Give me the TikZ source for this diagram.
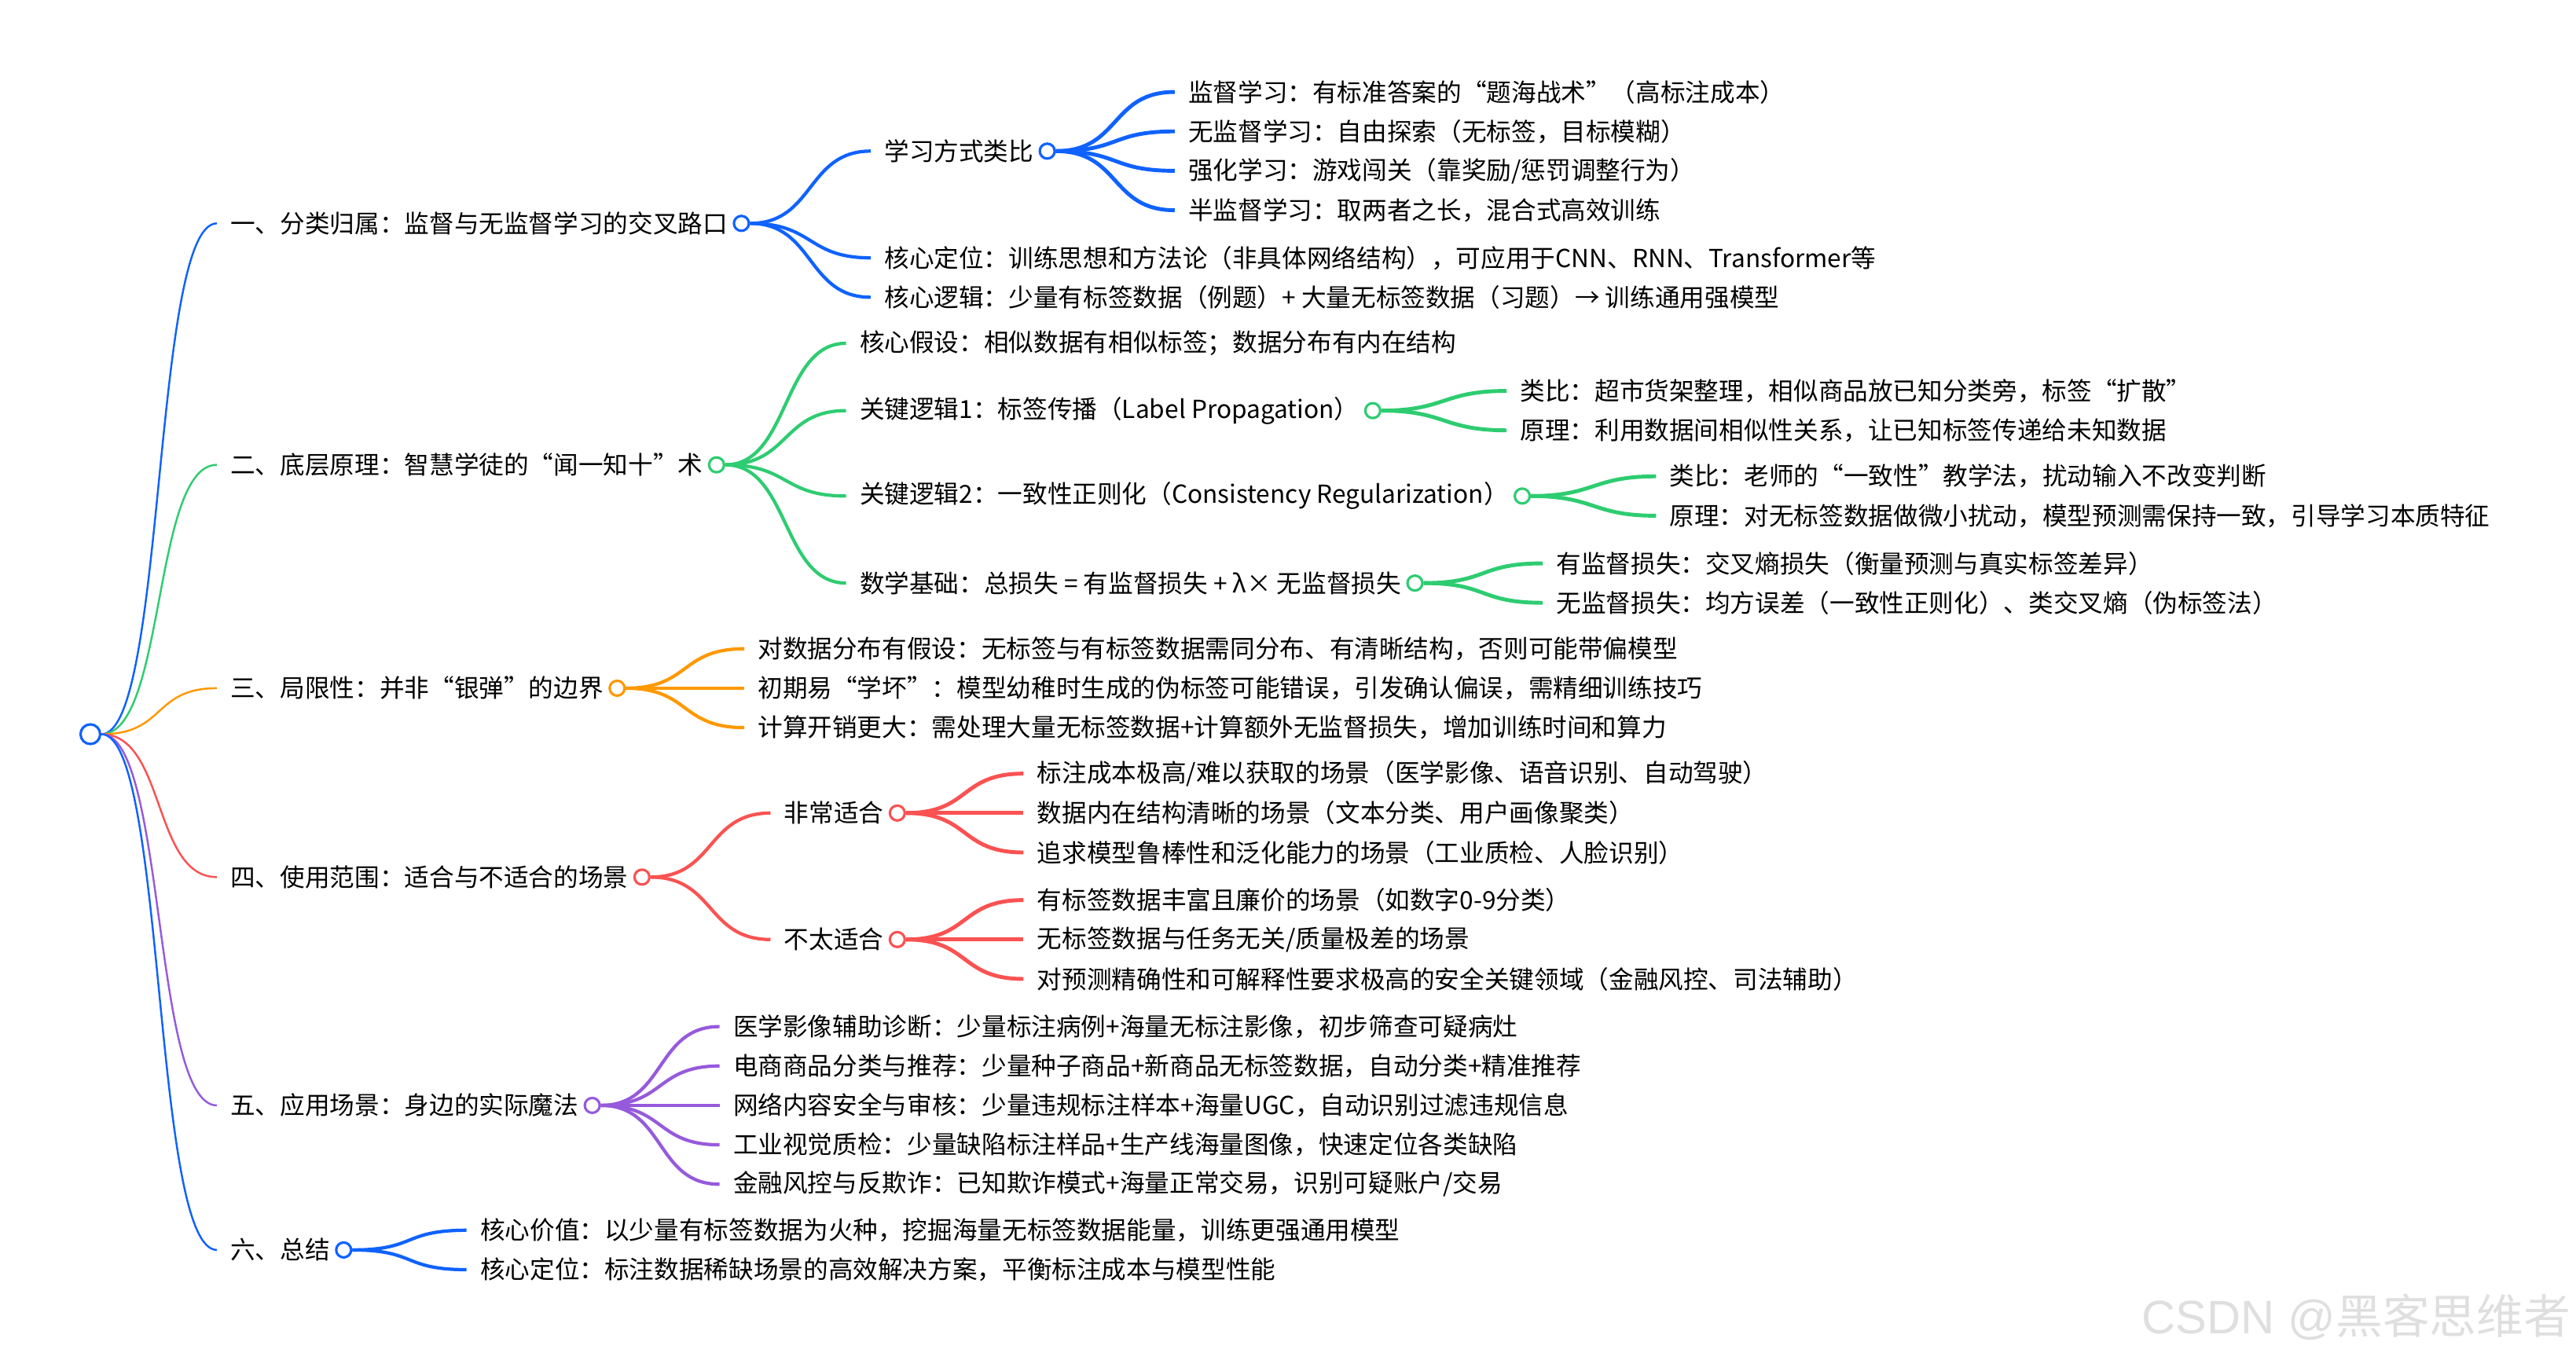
\documentclass[tikz,border=0pt]{standalone}
\usepackage{fontspec}
\setmainfont{Noto Sans CJK SC}
\newfontfamily\wmfont{Liberation Sans}
\usepackage{tikz}

\definecolor{mapblue}{RGB}{15,98,254}
\definecolor{mapgreen}{RGB}{46,204,113}
\definecolor{maporange}{RGB}{255,153,0}
\definecolor{mapred}{RGB}{250,82,82}
\definecolor{mappurple}{RGB}{150,90,220}

\begin{document}
\begin{tikzpicture}[x=0.020906cm, y=-0.020906cm,
    txt/.style={anchor=west, inner xsep=0.167cm, inner ysep=0pt, font=\fontsize{9pt}{11pt}\selectfont},
    dot/.style={circle, fill=white, line width=0.9pt, minimum size=0.19cm, inner sep=0pt},
    lnk/.style={out=0, in=180, distance=0.82cm},
    e1/.style={lnk, line width=0.7pt},
    e2/.style={lnk, line width=1.2pt},
    e3/.style={lnk, line width=1.4pt}]

\useasboundingbox (0,0) rectangle (1568,828);

% Root
\node[dot, draw=mapblue, minimum size=0.25cm] (root) at (55,447) {};

% Branch one
\node[txt] (b1) at (132,136) {一、分类归属：监督与无监督学习的交叉路口};
\node[txt] (b1a) at (530,92) {学习方式类比};
\node[txt] (b1b) at (530,157) {核心定位：训练思想和方法论（非具体网络结构），可应用于CNN、RNN、Transformer等};
\node[txt] (b1c) at (530,181) {核心逻辑：少量有标签数据（例题）+ 大量无标签数据（习题）→ 训练通用强模型};
\node[txt] (b1a1) at (715,56) {监督学习：有标准答案的“题海战术”（高标注成本）};
\node[txt] (b1a2) at (715,80) {无监督学习：自由探索（无标签，目标模糊）};
\node[txt] (b1a3) at (715,104) {强化学习：游戏闯关（靠奖励/惩罚调整行为）};
\node[txt] (b1a4) at (715,128) {半监督学习：取两者之长，混合式高效训练};
\node[dot, draw=mapblue] (d1) at (b1.east) {};
\node[dot, draw=mapblue] (d1a) at (b1a.east) {};
\draw[e1, mapblue] (root) to (b1);
\draw[e2, mapblue] (d1) to (b1a);
\draw[e2, mapblue] (d1) to (b1b);
\draw[e2, mapblue] (d1) to (b1c);
\draw[e3, mapblue] (d1a) to (b1a1);
\draw[e3, mapblue] (d1a) to (b1a2);
\draw[e3, mapblue] (d1a) to (b1a3);
\draw[e3, mapblue] (d1a) to (b1a4);

% Branch two
\node[txt] (b2) at (132,283) {二、底层原理：智慧学徒的“闻一知十”术};
\node[txt] (b2a) at (515,209) {核心假设：相似数据有相似标签；数据分布有内在结构};
\node[txt] (b2b) at (515,250) {关键逻辑1：标签传播（Label Propagation）};
\node[txt] (b2c) at (515,302) {关键逻辑2：一致性正则化（Consistency Regularization）};
\node[txt] (b2d) at (515,355) {数学基础：总损失 = 有监督损失 + λ× 无监督损失};
\node[txt] (b2b1) at (917,238) {类比：超市货架整理，相似商品放已知分类旁，标签“扩散”};
\node[txt] (b2b2) at (917,262) {原理：利用数据间相似性关系，让已知标签传递给未知数据};
\node[txt] (b2c1) at (1008,290) {类比：老师的“一致性”教学法，扰动输入不改变判断};
\node[txt] (b2c2) at (1008,314) {原理：对无标签数据做微小扰动，模型预测需保持一致，引导学习本质特征};
\node[txt] (b2d1) at (939,343) {有监督损失：交叉熵损失（衡量预测与真实标签差异）};
\node[txt] (b2d2) at (939,367) {无监督损失：均方误差（一致性正则化）、类交叉熵（伪标签法）};
\node[dot, draw=mapgreen] (d2) at (b2.east) {};
\node[dot, draw=mapgreen] (d2b) at (b2b.east) {};
\node[dot, draw=mapgreen] (d2c) at (b2c.east) {};
\node[dot, draw=mapgreen] (d2d) at (b2d.east) {};
\draw[e1, mapgreen] (root) to (b2);
\draw[e2, mapgreen] (d2) to (b2a);
\draw[e2, mapgreen] (d2) to (b2b);
\draw[e2, mapgreen] (d2) to (b2c);
\draw[e2, mapgreen] (d2) to (b2d);
\draw[e3, mapgreen] (d2b) to (b2b1);
\draw[e3, mapgreen] (d2b) to (b2b2);
\draw[e3, mapgreen] (d2c) to (b2c1);
\draw[e3, mapgreen] (d2c) to (b2c2);
\draw[e3, mapgreen] (d2d) to (b2d1);
\draw[e3, mapgreen] (d2d) to (b2d2);

% Branch three
\node[txt] (b3) at (132,419) {三、局限性：并非“银弹”的边界};
\node[txt] (b3a) at (453,395) {对数据分布有假设：无标签与有标签数据需同分布、有清晰结构，否则可能带偏模型};
\node[txt] (b3b) at (453,419) {初期易“学坏”：模型幼稚时生成的伪标签可能错误，引发确认偏误，需精细训练技巧};
\node[txt] (b3c) at (453,443) {计算开销更大：需处理大量无标签数据+计算额外无监督损失，增加训练时间和算力};
\node[dot, draw=maporange] (d3) at (b3.east) {};
\draw[e1, maporange] (root) to (b3);
\draw[e2, maporange] (d3) to (b3a);
\draw[e2, maporange] (d3) to (b3b);
\draw[e2, maporange] (d3) to (b3c);

% Branch four
\node[txt] (b4) at (132,534) {四、使用范围：适合与不适合的场景};
\node[txt] (b4a) at (469,495) {非常适合};
\node[txt] (b4b) at (469,572) {不太适合};
\node[txt] (b4a1) at (623,471) {标注成本极高/难以获取的场景（医学影像、语音识别、自动驾驶）};
\node[txt] (b4a2) at (623,495) {数据内在结构清晰的场景（文本分类、用户画像聚类）};
\node[txt] (b4a3) at (623,519) {追求模型鲁棒性和泛化能力的场景（工业质检、人脸识别）};
\node[txt] (b4b1) at (623,548) {有标签数据丰富且廉价的场景（如数字0-9分类）};
\node[txt] (b4b2) at (623,572) {无标签数据与任务无关/质量极差的场景};
\node[txt] (b4b3) at (623,596) {对预测精确性和可解释性要求极高的安全关键领域（金融风控、司法辅助）};
\node[dot, draw=mapred] (d4) at (b4.east) {};
\node[dot, draw=mapred] (d4a) at (b4a.east) {};
\node[dot, draw=mapred] (d4b) at (b4b.east) {};
\draw[e1, mapred] (root) to (b4);
\draw[e2, mapred] (d4) to (b4a);
\draw[e2, mapred] (d4) to (b4b);
\draw[e3, mapred] (d4a) to (b4a1);
\draw[e3, mapred] (d4a) to (b4a2);
\draw[e3, mapred] (d4a) to (b4a3);
\draw[e3, mapred] (d4b) to (b4b1);
\draw[e3, mapred] (d4b) to (b4b2);
\draw[e3, mapred] (d4b) to (b4b3);

% Branch five
\node[txt] (b5) at (132,673) {五、应用场景：身边的实际魔法};
\node[txt] (b5a) at (438,625) {医学影像辅助诊断：少量标注病例+海量无标注影像，初步筛查可疑病灶};
\node[txt] (b5b) at (438,649) {电商商品分类与推荐：少量种子商品+新商品无标签数据，自动分类+精准推荐};
\node[txt] (b5c) at (438,673) {网络内容安全与审核：少量违规标注样本+海量UGC，自动识别过滤违规信息};
\node[txt] (b5d) at (438,697) {工业视觉质检：少量缺陷标注样品+生产线海量图像，快速定位各类缺陷};
\node[txt] (b5e) at (438,721) {金融风控与反欺诈：已知欺诈模式+海量正常交易，识别可疑账户/交易};
\node[dot, draw=mappurple] (d5) at (b5.east) {};
\draw[e1, mappurple] (root) to (b5);
\draw[e2, mappurple] (d5) to (b5a);
\draw[e2, mappurple] (d5) to (b5b);
\draw[e2, mappurple] (d5) to (b5c);
\draw[e2, mappurple] (d5) to (b5d);
\draw[e2, mappurple] (d5) to (b5e);

% Branch six
\node[txt] (b6) at (132,761) {六、总结};
\node[txt] (b6a) at (284,749) {核心价值：以少量有标签数据为火种，挖掘海量无标签数据能量，训练更强通用模型};
\node[txt] (b6b) at (284,773) {核心定位：标注数据稀缺场景的高效解决方案，平衡标注成本与模型性能};
\node[dot, draw=mapblue] (d6) at (b6.east) {};
\draw[e1, mapblue] (root) to (b6);
\draw[e2, mapblue] (d6) to (b6a);
\draw[e2, mapblue] (d6) to (b6b);

% Watermark
\node[anchor=east, text=gray!25, inner sep=0pt, font=\fontsize{17pt}{20pt}\selectfont] (wm) at (1565,802) {{\wmfont CSDN @}黑客思维者};

\end{tikzpicture}
\end{document}
